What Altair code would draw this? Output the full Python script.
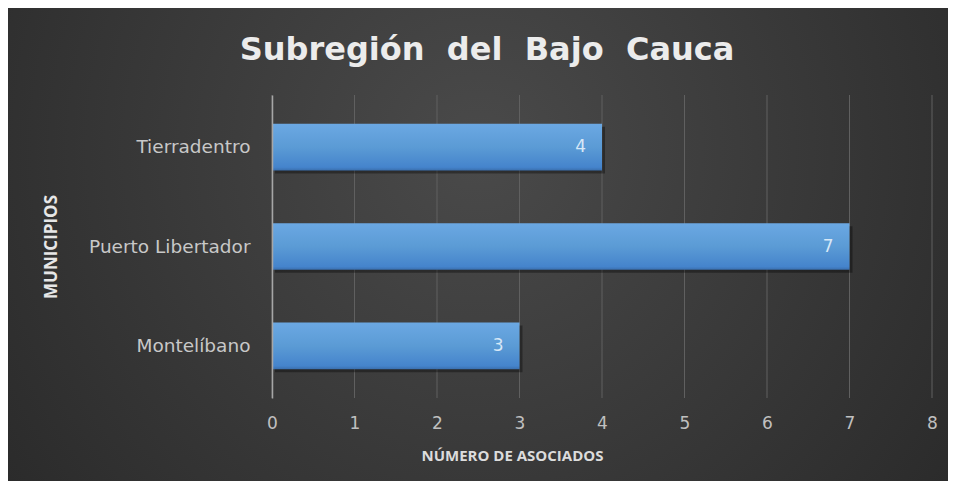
import altair as alt
import pandas as pd

municipios = ["Tierradentro", "Puerto Libertador", "Montelíbano"]
asociados = [4, 7, 3]
ticks = [0, 1, 2, 3, 4, 5, 6, 7, 8]

df = pd.DataFrame({"Municipio": municipios, "Asociados": asociados})

PAD_L, PAD_T, PAD_R, PAD_B = 264, 87, 16, 83
W, H = 660, 303

x_scale = alt.Scale(domain=[0, 8], nice=False)
y_scale = alt.Scale(paddingInner=0.53, paddingOuter=0.29)

bg = alt.Chart(alt.Data(values=[{"a": 1}])).mark_rect(
    fill=alt.RadialGradient(
        gradient="radial", x1=0.5, y1=0.4, r1=0.0, x2=0.5, y2=0.4, r2=0.75,
        stops=[alt.GradientStop(offset=0, color="#4a4a4a"),
               alt.GradientStop(offset=1, color="#242424")]),
).encode(
    x=alt.value(-PAD_L), x2=alt.value(W + PAD_R),
    y=alt.value(-PAD_T), y2=alt.value(H + PAD_B),
)

grid = alt.Chart(pd.DataFrame({"t": ticks})).mark_rule(
    color="#606060", strokeWidth=1
).encode(x=alt.X("t:Q", scale=x_scale))

base = alt.Chart(df).encode(
    y=alt.Y("Municipio:N", sort=municipios, scale=y_scale,
            axis=alt.Axis(title="MUNICIPIOS", ticks=False, domain=True,
                          domainColor="#a6a6a6", domainWidth=1.5,
                          labelPadding=22, labelFontSize=18.5, labelColor="#c8c8c8",
                          labelFont="DejaVu Sans",
                          titleFont="Open Sans", titleFontSize=17, titleFontWeight="bold",
                          titleColor="#e6e6e6", titleX=-221, titleY=H / 2,
                          titleAngle=270, titleAlign="center", titleBaseline="middle",
                          zindex=1)),
    x=alt.X("Asociados:Q", scale=x_scale,
            axis=alt.Axis(values=ticks, format="d", title="NÚMERO DE ASOCIADOS", grid=False,
                          domain=False, ticks=False, labelPadding=17, labelFlush=False,
                          labelFontSize=17, labelColor="#c0c0c0", labelFont="DejaVu Sans",
                          titleFont="Open Sans", titleFontSize=15, titleFontWeight="bold",
                          titleColor="#dcdcdc", titleX=240, titleY=57,
                          titleAlign="center", titleBaseline="middle", zindex=1)),
)

shadow = base.mark_bar(color="#000000", opacity=0.35, xOffset=3, yOffset=3)

bars = base.mark_bar(
    color=alt.LinearGradient(
        gradient="linear", x1=0, y1=0, x2=0, y2=1,
        stops=[alt.GradientStop(offset=0, color="#6ba8e3"),
               alt.GradientStop(offset=0.5, color="#5b9bd5"),
               alt.GradientStop(offset=0.93, color="#4584cc"),
               alt.GradientStop(offset=1, color="#3a6fae")]),
)

labels = base.mark_text(
    align="right", baseline="middle", dx=-16, fontSize=17,
    font="DejaVu Sans", color="#d8e8f7"
).encode(text="Asociados:Q")

title_text = "Subregión\u00a0\u00a0del\u00a0\u00a0Bajo\u00a0\u00a0Cauca"

chart = alt.layer(bg, grid, shadow, bars, labels).properties(
    width=W, height=H,
    title=alt.TitleParams(title_text, fontSize=32,
                          font="DejaVu Sans", fontWeight="bold", color="#ececec",
                          offset=-59, anchor="middle", dx=-115),
    autosize=alt.AutoSizeParams(type="none"),
    padding={"left": PAD_L, "top": PAD_T, "right": PAD_R, "bottom": PAD_B},
).configure_view(stroke=None).configure(background="#2b2b2b")

chart.save("out.html", embed_options={"renderer": "svg", "actions": False})
